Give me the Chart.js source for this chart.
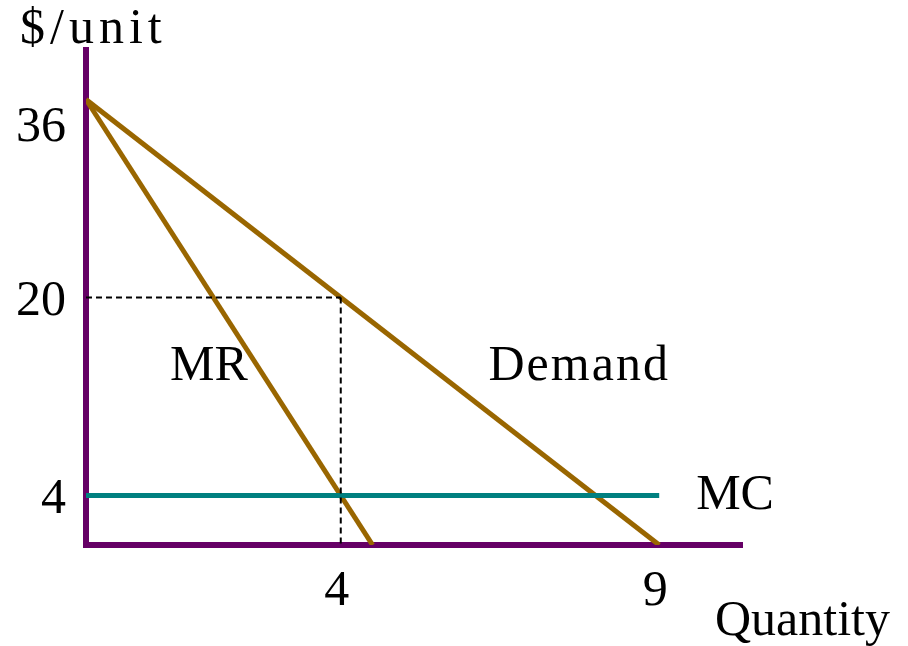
<!DOCTYPE html>
<html>
<head>
<meta charset="utf-8">
<title>Monopoly pricing</title>
<script src="https://cdn.jsdelivr.net/npm/chart.js@4/dist/chart.umd.min.js"></script>
<style>
  html, body { margin: 0; padding: 0; background: #ffffff; }
  canvas { display: block; }
</style>
</head>
<body>
<canvas id="chart_canvas"></canvas>
<script>
//---------------------------------------
// Data
//---------------------------------------

// demand: P = 36 - 4Q, marginal revenue: P = 36 - 8Q, marginal cost = 4
const demand_q = [0, 9];
const demand_p = [36, 0];
const mr_q = [0, 4.5];
const mr_p = [36, 0];
const mc_q = [0, 9];
const mc_p = [4, 4];

// profit maximising point (Q = 4, P = 20)
const opt_q = 4;
const opt_p = 20;

const x_tick_values = [4, 9];
const y_tick_values = [4, 20, 36];

const x_title = "Quantity";
const y_title = "$/unit";


//---------------------------------------
// Global
//---------------------------------------

const FONT = '50px "Liberation Serif", "Times New Roman", serif';
const AXIS_COLOR = '#660066';
const CURVE_COLOR = '#996600';
const MC_COLOR = '#008080';


//---------------------------------------
// Class
//---------------------------------------

function to_points(xs, ys) {
  let ary = [];
  for (let i = 0; i < xs.length; i++) {
    ary.push({x: xs[i], y: ys[i]});
  }
  return ary;
}

// tick labels, axis titles and curve names
const text_plugin = {
  id: 'text_plugin',
  afterDraw(chart) {
    const ctx = chart.ctx;
    const area = chart.chartArea;
    const sx = chart.scales.x;
    const sy = chart.scales.y;

    ctx.save();
    ctx.font = FONT;
    ctx.fillStyle = '#000000';
    ctx.textBaseline = 'alphabetic';

    // y ticks (top one sits below the curves' starting point)
    ctx.textAlign = 'right';
    for (let i = 0; i < y_tick_values.length; i++) {
      const v = y_tick_values[i];
      const dy = (i === y_tick_values.length - 1) ? 41 : 17;
      ctx.fillText(String(v), area.left - 20, sy.getPixelForValue(v) + dy);
    }

    // x ticks
    ctx.textAlign = 'center';
    for (let i = 0; i < x_tick_values.length; i++) {
      const v = x_tick_values[i];
      ctx.fillText(String(v), sx.getPixelForValue(v) - 4, area.bottom + 60);
    }

    // axis titles
    ctx.textAlign = 'left';
    ctx.fillText(x_title, 715, area.bottom + 90);
    ctx.letterSpacing = '5px';
    ctx.fillText(y_title, 20, area.top - 7);
    ctx.letterSpacing = '0px';

    // curve names
    ctx.fillText('MR', sx.getPixelForValue(1.32), sy.getPixelForValue(13.3));
    ctx.letterSpacing = '2px';
    ctx.fillText('Demand', sx.getPixelForValue(6.32), sy.getPixelForValue(13.3));
    ctx.letterSpacing = '0px';
    ctx.fillText('MC', sx.getPixelForValue(9.58), sy.getPixelForValue(2.9));

    ctx.restore();
  }
};

function draw_chart(canvas_id) {
  const canvas = document.getElementById(canvas_id);
  canvas.width = 908;
  canvas.height = 646;

  const line_opts = {fill: false, pointRadius: 0, tension: 0, borderCapStyle: 'butt'};

  const datasets = [
    Object.assign({label: 'opt_h', data: to_points([0, opt_q], [opt_p, opt_p]),
      borderColor: '#000000', borderWidth: 2, borderDash: [6, 4]}, line_opts),
    Object.assign({label: 'opt_v', data: to_points([opt_q, opt_q], [opt_p, 0]),
      borderColor: '#000000', borderWidth: 2, borderDash: [6, 4]}, line_opts),
    Object.assign({label: 'MC', data: to_points(mc_q, mc_p),
      borderColor: MC_COLOR, borderWidth: 5}, line_opts),
    Object.assign({label: 'MR', data: to_points(mr_q, mr_p),
      borderColor: CURVE_COLOR, borderWidth: 5}, line_opts),
    Object.assign({label: 'Demand', data: to_points(demand_q, demand_p),
      borderColor: CURVE_COLOR, borderWidth: 5}, line_opts)
  ];

  const axis_common = {
    grid: {display: false, drawTicks: false},
    ticks: {display: false},
    border: {display: true, color: AXIS_COLOR, width: 6}
  };

  return new Chart(canvas, {
    type: 'line',
    data: {datasets: datasets},
    options: {
      responsive: false,
      animation: false,
      layout: {padding: {left: 86, top: 50, right: 166, bottom: 101}},
      plugins: {legend: {display: false}, tooltip: {enabled: false}},
      scales: {
        x: Object.assign({type: 'linear', min: 0, max: 10.3,
          afterFit(scale) { scale.height = 0; }}, axis_common),
        y: Object.assign({type: 'linear', min: 0, max: 40,
          afterFit(scale) { scale.width = 0; }}, axis_common)
      }
    },
    plugins: [text_plugin]
  });
}

draw_chart('chart_canvas');
</script>
</body>
</html>
